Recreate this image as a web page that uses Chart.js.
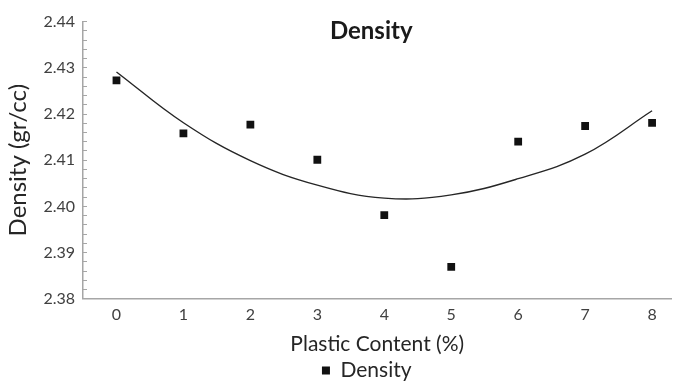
<!DOCTYPE html>
<html>
<head>
<meta charset="utf-8">
<script src="https://cdn.jsdelivr.net/npm/chart.js@4"></script>
<style>
  html,body{margin:0;padding:0;background:#fff;}
  #wrap{width:677px;height:381px;}
</style>
</head>
<body>
<div id="wrap"><canvas id="chart" width="677" height="381"></canvas></div>
<script>
// plastic content (%) and measured density
const content = [0, 1, 2, 3, 4, 5, 6, 7, 8];
const density = [2.4273, 2.4158, 2.4177, 2.4101, 2.3981, 2.3869, 2.4140, 2.4174, 2.4181];
// polynomial trendline at each content value
const trend = [2.4291, 2.4181, 2.4099, 2.4046, 2.4018, 2.4025, 2.4060, 2.4113, 2.4207];
const yTicks = [2.38, 2.39, 2.40, 2.41, 2.42, 2.43, 2.44];

const FONT = 'Lato, "Open Sans", sans-serif';
const AXIS = '#a6a6a6';

// chart title sits inside the plot area, like the Excel original
const titleInside = {
  id: 'titleInside',
  afterDraw(chart){
    const {ctx, chartArea:a} = chart;
    ctx.save();
    ctx.font = 'bold 24px ' + FONT;
    ctx.fillStyle = '#1a1a1a';
    ctx.textAlign = 'center';
    ctx.textBaseline = 'middle';
    ctx.fillText('Density', (a.left + a.right)/2 - 6, a.top + 10);
    ctx.restore();
  }
};

new Chart(document.getElementById('chart').getContext('2d'), {
  type: 'scatter',
  data: {
    datasets: [
      {
        label: 'Density',
        data: content.map((x,i)=>({x:x, y:density[i]})),
        pointStyle: 'rect', pointRadius: 5.5, pointHoverRadius: 5.5,
        backgroundColor: '#111', borderColor: '#111', borderWidth: 0,
        showLine: false, order: 1
      },
      {
        label: 'Trend',
        data: content.map((x,i)=>({x:x, y:trend[i]})),
        showLine: true, pointRadius: 0, borderColor: '#262626', borderWidth: 1.4,
        tension: 0.4, fill: false, order: 2
      }
    ]
  },
  options: {
    responsive: false, animation: false,
    layout: {padding: {left: 4, right: 0, top: 6, bottom: -10}},
    plugins: {
      tooltip: {enabled: false},
      title: {display: false},
      legend: {
        position: 'bottom', fullSize: false,
        labels: {
          // only the measured series goes in the legend
          generateLabels: (chart)=> Chart.defaults.plugins.legend.labels.generateLabels(chart)
            .filter(l=>l.datasetIndex === 0)
            .map(l=>Object.assign(l, {text: l.text + '\u00a0\u00a0\u00a0\u00a0'})),
          usePointStyle: true, pointStyle: 'rect', boxWidth: 8, boxHeight: 8,
          color: '#262626', font: {family: FONT, size: 21}, padding: 0
        }
      }
    },
    scales: {
      x: {
        type: 'linear', min: -0.5, max: 8.29,
        afterBuildTicks: (s)=>{ s.ticks = content.map(v=>({value:v})); },
        grid: {drawOnChartArea: false, drawTicks: false},
        border: {color: AXIS, width: 1.5},
        ticks: {color: '#404040', font: {family: FONT, size: 16}, padding: 6,
                callback: (v)=> String(v)},
        title: {display: true, text: 'Plastic Content (%)', color: '#262626',
                font: {family: FONT, size: 21, lineHeight: 1}, padding: {top: 4, bottom: 5}}
      },
      y: {
        min: 2.38, max: 2.44,
        afterBuildTicks: (s)=>{
          const t = [];
          for (let i = 0; i <= 30; i++) t.push({value: +(2.38 + i*0.002).toFixed(3)});
          s.ticks = t;
        },
        afterFit: (s)=>{ s.width = 79; },
        grid: {drawOnChartArea: false, drawTicks: true, tickLength: -4, color: AXIS, lineWidth: 1},
        border: {color: AXIS, width: 1.5},
        ticks: {
          autoSkip: false, color: '#404040', font: {family: FONT, size: 16}, padding: 12,
          callback: (v)=>{
            const k = yTicks.find(t=>Math.abs(t - v) < 1e-6);
            return k !== undefined ? k.toFixed(2) : '';
          }
        },
        title: {display: true, text: 'Density (gr/cc)', color: '#262626',
                font: {family: FONT, size: 24}, padding: {top: 0, bottom: 6}}
      }
    }
  },
  plugins: [titleInside]
});
</script>
</body>
</html>
